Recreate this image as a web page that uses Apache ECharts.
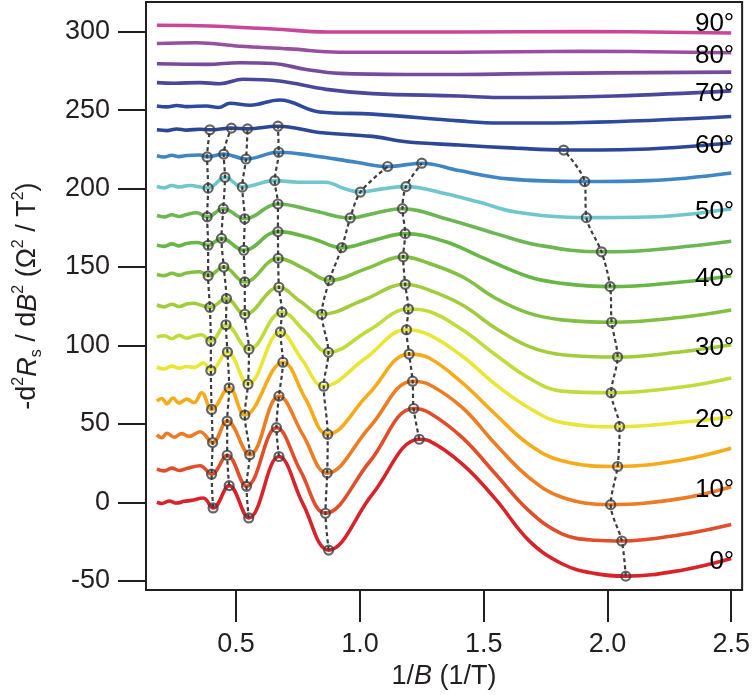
<!DOCTYPE html>
<html>
<head>
<meta charset="utf-8">
<script src="https://cdn.jsdelivr.net/npm/echarts@6/dist/echarts.min.js"></script>
<style>
  html, body { margin: 0; padding: 0; background: #fff; }
  #chart { width: 753px; height: 695px; }
</style>
</head>
<body>
<div id="chart"></div>
<script>
// ── Data ────────────────────────────────────────────────────────────────
const angles = [0, 5, 10, 15, 20, 25, 30, 35, 40, 45, 50, 55, 60, 65, 70, 75, 80, 90];
const labelledAngles = [0, 10, 20, 30, 40, 50, 60, 70, 80, 90];
const xTicks = [0.5, 1.0, 1.5, 2.0, 2.5];
const yTicks = [-50, 0, 50, 100, 150, 200, 250, 300];

// curve points that are not marked with a circle: [1/B, -d2Rs/dB2]
const c0 = [[0.18, 0], [0.20, -0.8], [0.23, 0.8], [0.26, -0.5], [0.29, 0.6], [0.32, 1.2], [0.367, 2.7], [0.77, -1.0], [1.05, 5], [1.28, 39.1], [1.414, 24.3], [1.548, 2], [1.682, -24.3], [1.816, -39.2], [1.951, -45.5], [2.30, -43.3], [2.50, -35.9]];
const c5 = [[0.18, 21.1], [0.21, 20.0], [0.24, 21.8], [0.27, 20.3], [0.30, 21.5], [0.354, 23.3], [0.76, 20], [1.04, 26], [1.28, 57.1], [1.414, 41.2], [1.548, 18], [1.682, -5.3], [1.816, -20.1], [1.951, -24.2], [2.30, -20.5], [2.50, -14.1]];
const c10 = [[0.18, 43.0], [0.20, 41.2], [0.22, 44.0], [0.25, 41.5], [0.28, 43.8], [0.31, 42.0], [0.354, 45.0], [0.77, 43], [1.04, 48], [1.28, 75.1], [1.414, 60.3], [1.548, 37.0], [1.682, 15.9], [1.816, 3.2], [2.30, 2.5], [2.50, 9.9]];
const c15 = [[0.18, 64.5], [0.20, 66.2], [0.22, 62.8], [0.245, 66.5], [0.27, 63.2], [0.30, 65.8], [0.33, 63.5], [0.361, 69.8], [0.78, 66], [1.035, 69], [1.28, 92.0], [1.414, 76.1], [1.548, 56.0], [1.682, 37.0], [1.816, 26.5], [2.30, 27], [2.50, 34.4]];
const c20 = [[0.18, 86.1], [0.21, 85.0], [0.24, 86.8], [0.27, 85.5], [0.30, 86.6], [0.33, 86.0], [0.367, 88.8], [0.766, 91], [1.02, 91.5], [1.28, 106.8], [1.414, 93.1], [1.548, 75.1], [1.682, 60.3], [1.816, 50.8], [2.30, 51], [2.50, 54.4]];
const c25 = [[0.18, 105.3], [0.21, 106.2], [0.24, 104.3], [0.27, 106.4], [0.30, 104.6], [0.33, 106.0], [0.36, 106.8], [0.78, 108.5], [1.035, 109.5], [1.28, 121.6], [1.414, 110.0], [1.548, 94.1], [1.682, 79.3], [1.816, 70.9], [2.30, 73.5], [2.50, 79.3]];
const c30 = [[0.18, 125.8], [0.21, 124.6], [0.24, 126.3], [0.27, 124.8], [0.30, 126.4], [0.327, 126.9], [0.36, 125.6], [0.76, 128], [1.015, 129], [1.28, 135.3], [1.414, 125.8], [1.548, 111.0], [1.682, 99.4], [1.816, 94.1], [2.30, 96], [2.50, 100.4]];
const c35 = [[0.18, 145.3], [0.21, 144.5], [0.24, 146.0], [0.27, 144.8], [0.30, 146.2], [0.354, 147.0], [0.775, 149], [1.026, 149], [1.28, 152.3], [1.414, 143.8], [1.548, 130.1], [1.682, 120.6], [1.816, 116.3], [2.30, 118], [2.50, 122.6]];
const c40 = [[0.18, 163.9], [0.21, 163.2], [0.24, 164.8], [0.27, 163.5], [0.30, 165.0], [0.34, 165.6], [0.81, 168.1], [1.055, 167], [1.347, 166.1], [1.481, 157], [1.682, 143.8], [1.816, 139.6], [2.30, 140.5], [2.50, 144.5]];
const c45 = [[0.18, 182.9], [0.21, 182.0], [0.24, 183.3], [0.27, 182.2], [0.30, 183.5], [0.34, 184.6], [0.81, 186.1], [1.065, 184.5], [1.347, 180.8], [1.548, 171.3], [1.723, 163.9], [2.165, 160.7], [2.50, 166.4]];
const c50 = [[0.18, 201.3], [0.21, 200.5], [0.24, 202.0], [0.27, 201.0], [0.31, 202.0], [0.75, 204.1], [0.86, 204.1], [0.94, 199.9], [1.095, 200], [1.347, 196.7], [1.48, 191.4], [1.629, 185.1], [2.165, 181.9], [2.50, 187.2]];
const c55 = [[0.18, 221.0], [0.21, 220.2], [0.24, 221.3], [0.27, 220.4], [0.30, 221.1], [0.354, 221.4], [0.81, 221.0], [0.985, 216.8], [1.40, 211.5], [1.60, 206.2], [2.165, 205.1], [2.50, 210.0]];
const c60 = [[0.18, 237.5], [0.22, 237.0], [0.26, 238.0], [0.30, 237.3], [0.354, 237.9], [0.837, 235.8], [1.051, 233.3], [1.186, 229.9], [1.40, 227.8], [1.629, 225.8], [2.165, 225.3], [2.50, 229.2]];
const c65 = [[0.18, 252.7], [0.22, 252.1], [0.26, 253.0], [0.30, 252.3], [0.381, 252.7], [0.428, 251.7], [0.476, 254.4], [0.556, 253.2], [0.676, 256.5], [0.837, 248.9], [1.051, 247.5], [1.40, 243.2], [1.561, 241.8], [1.897, 242.2], [2.50, 246.0]];
const c70 = [[0.18, 267.6], [0.25, 267.2], [0.354, 267.6], [0.434, 266.9], [0.528, 269.7], [0.675, 268.6], [0.864, 263.3], [1.051, 260.6], [1.40, 259.1], [1.56, 258.1], [2.03, 259.1], [2.50, 262.3]];
const c75 = [[0.18, 279.6], [0.381, 279.2], [0.515, 280.3], [0.649, 279.8], [0.783, 276.0], [0.917, 273.5], [1.186, 272.8], [1.40, 272.8], [1.763, 273.5], [2.50, 274.3]];
const c80 = [[0.18, 292.5], [0.34, 293.0], [0.515, 290.8], [0.716, 289.1], [0.917, 287.0], [1.40, 287.0], [1.897, 287.6], [2.50, 286.6]];
const c90 = [[0.18, 304.2], [0.35, 303.9], [0.65, 301.8], [0.87, 299.9], [1.40, 299.9], [1.90, 300.2], [2.50, 299.2]];

// marked extrema (circles + dashed guide lines), one entry per curve from 0° up
const colA = [[0.407, -3.6], [0.401, 17.9], [0.405, 38.1], [0.401, 59.2], [0.398, 84.0], [0.398, 102.6], [0.394, 124.3], [0.387, 144.4], [0.387, 163.9], [0.383, 182.0], [0.387, 200.3], [0.383, 220.2], [0.394, 237.5]];
const colB = [[0.472, 10.6], [0.464, 30.0], [0.464, 51.8], [0.472, 73.0], [0.465, 95.8], [0.459, 113.2], [0.461, 129.9], [0.450, 150.0], [0.441, 168.3], [0.448, 187.2], [0.455, 207.2], [0.450, 222.0], [0.481, 238.6]];
const colC = [[0.551, -10.0], [0.542, 10.2], [0.555, 30.3], [0.535, 55.6], [0.548, 75.3], [0.552, 97.5], [0.535, 119.9], [0.535, 140.5], [0.531, 160.7], [0.535, 180.8], [0.525, 201.0], [0.540, 218.9], [0.546, 238.1]];
const colD = [[0.673, 29.2], [0.663, 47.6], [0.673, 67.7], [0.689, 89.3], [0.679, 108.6], [0.685, 121.2], [0.673, 137.1], [0.670, 155.5], [0.669, 172.6], [0.669, 190.2], [0.656, 205.1], [0.672, 223.2], [0.669, 239.8]];
const colE = [[0.874, -30.5], [0.861, -7.0], [0.868, 18.6], [0.870, 43.3], [0.854, 74.0], [0.873, 95.6], [0.846, 119.9], [0.877, 141.5], [0.927, 162.4], [0.961, 181.3], [1.002, 197.8], [1.112, 214.1]];
const colF = [[1.240, 40.2], [1.217, 59.8], [1.213, 77.2], [1.199, 94.5], [1.188, 110.0], [1.196, 123.2], [1.183, 139.0], [1.175, 156.5], [1.183, 171.3], [1.172, 187.2], [1.186, 201.3], [1.250, 216.2]];
const colG = [[2.074, -47.1], [2.058, -24.7], [2.013, -1.5], [2.041, 22.8], [2.049, 48.2], [2.015, 69.8], [2.041, 92.6], [2.017, 114.8], [2.011, 137.5], [1.976, 159.7], [1.915, 181.5], [1.908, 204.5], [1.823, 224.6]];

// ── Styles ──────────────────────────────────────────────────────────────
const COLORS = ['#d8232a', '#e04e2b', '#ec7d24', '#f6ab1b', '#e9e635', '#c3da3c', '#a2cc3c', '#82c042',
  '#68b746', '#6cb653', '#6fc6cd', '#3f86c3', '#2d4797', '#2f4a9c', '#4b4899', '#774a9c', '#97509f', '#c94799'];
const FONT = "'Liberation Sans', Arial, sans-serif";
const INK = '#231f20';
const GUIDE = '#3d3d3d';
const FS = 27;

const extras = [c0, c5, c10, c15, c20, c25, c30, c35, c40, c45, c50, c55, c60, c65, c70, c75, c80, c90];
const columns = [colA, colB, colC, colD, colE, colF, colG];

function curvePoints(i) {
  const pts = extras[i].slice();
  columns.forEach(col => { if (col[i]) pts.push(col[i]); });
  return pts.sort((a, b) => a[0] - b[0]);
}

// ── Series ──────────────────────────────────────────────────────────────
const series = [];

angles.forEach((ang, i) => {
  const pts = curvePoints(i);
  const labelled = labelledAngles.includes(ang);
  series.push({
    type: 'line',
    name: ang + '°',
    data: pts,
    smooth: 0.4,
    showSymbol: false,
    silent: true,
    z: 2,
    lineStyle: { color: COLORS[i], width: 3.6 },
    // angle tag at the right end of the curve
    markPoint: labelled ? {
      silent: true,
      symbol: 'circle',
      symbolSize: 0,
      data: [{ coord: pts[pts.length - 1], value: ang + '°' }],
      label: {
        show: true,
        position: 'left',
        distance: -3,
        formatter: ang + '°',
        fontFamily: FONT,
        fontSize: 26,
        color: '#000',
        opacity: 1,
        textBorderWidth: 0,
        offset: [0, ang === 90 ? -9 : 3]
      }
    } : undefined
  });
});

columns.forEach(col => {
  series.push({
    type: 'line',
    data: col,
    smooth: 0.3,
    showSymbol: false,
    silent: true,
    z: 3,
    lineStyle: { color: GUIDE, width: 2.2, type: [4, 3] }
  });
  series.push({
    type: 'scatter',
    data: col,
    symbol: 'circle',
    symbolSize: 9,
    silent: true,
    z: 4,
    itemStyle: { color: 'rgba(0,0,0,0)', borderColor: GUIDE, borderWidth: 2.2 }
  });
});

// ── Chart ───────────────────────────────────────────────────────────────
const chart = echarts.init(document.getElementById('chart'), null, { renderer: 'canvas' });

chart.setOption({
  animation: false,
  backgroundColor: '#fff',
  grid: { left: 146, right: 9, top: 2, bottom: 102, show: true, borderColor: INK, borderWidth: 2, backgroundColor: 'transparent' },
  xAxis: {
    type: 'value',
    min: 0.136,
    max: 2.544,
    name: '1/{it|B} (1/T)',
    nameLocation: 'middle',
    nameGap: 70,
    nameTextStyle: { fontFamily: FONT, fontSize: FS, color: INK, rich: { it: { fontFamily: FONT, fontSize: FS, fontStyle: 'italic', color: INK } } },
    axisLine: { show: true, onZero: false, lineStyle: { color: INK, width: 2 } },
    axisTick: { show: true, length: 32, lineStyle: { color: INK, width: 2 }, customValues: xTicks },
    axisLabel: { fontFamily: FONT, fontSize: FS, color: INK, margin: 41, customValues: xTicks, formatter: v => v.toFixed(1) },
    splitLine: { show: false }
  },
  yAxis: {
    type: 'value',
    min: -56,
    max: 319,
    name: '-d{sup|2}{it|R}{sub|s} / d{it|B}{sup|2} (Ω{sup|2} / T{sup|2})',
    nameLocation: 'middle',
    nameGap: 101,
    nameTextStyle: {
      fontFamily: FONT, fontSize: FS, color: INK, lineHeight: 34,
      rich: {
        it: { fontFamily: FONT, fontSize: FS, fontStyle: 'italic', color: INK, lineHeight: 34 },
        sup: { fontFamily: FONT, fontSize: 16, color: INK, verticalAlign: 'top', lineHeight: 17 },
        sub: { fontFamily: FONT, fontSize: 16, color: INK, verticalAlign: 'bottom', lineHeight: 14 }
      }
    },
    axisLine: { show: true, onZero: false, lineStyle: { color: INK, width: 2 } },
    axisTick: { show: true, length: 28, lineStyle: { color: INK, width: 2 }, customValues: yTicks },
    axisLabel: { fontFamily: FONT, fontSize: FS, color: INK, margin: 36, customValues: yTicks },
    splitLine: { show: false }
  },
  series
});
</script>
</body>
</html>
